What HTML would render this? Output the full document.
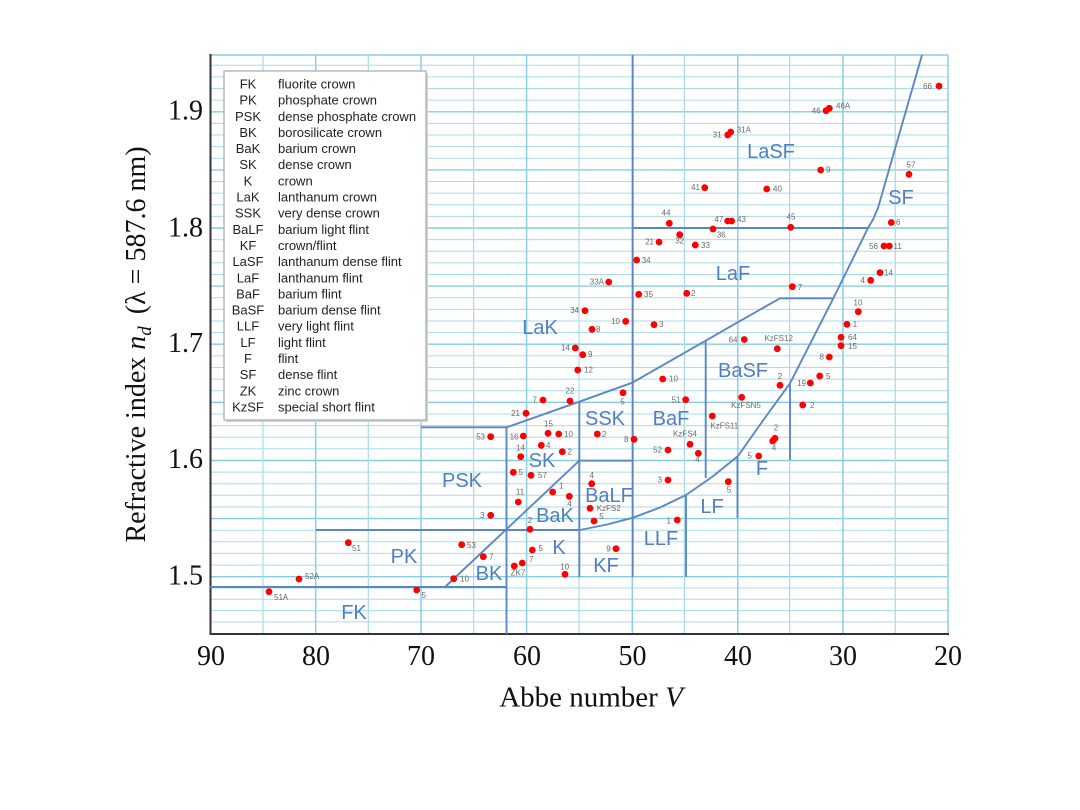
<!DOCTYPE html>
<html><head><meta charset="utf-8"><style>
html,body{margin:0;padding:0;background:#fff;}
svg{display:block;}
.pl{font-family:"Liberation Sans",sans-serif;font-size:8px;fill:#6a6a6a;}
.rg{font-family:"Liberation Sans",sans-serif;font-size:20px;fill:#4f7fc2;text-anchor:middle;}
.lg{font-family:"Liberation Sans",sans-serif;font-size:13px;fill:#222;}
.tk{font-family:"Liberation Serif",serif;font-size:28px;fill:#111;}
</style></head><body>
<svg width="1080" height="810" viewBox="0 0 1080 810" xmlns="http://www.w3.org/2000/svg">
<rect width="1080" height="810" fill="#fff"/>
<!-- horizontal grid -->
<g stroke="#a8dbeb" stroke-width="1">
<line x1="210" x2="948" y1="65.3" y2="65.3"/><line x1="210" x2="948" y1="76.9" y2="76.9"/><line x1="210" x2="948" y1="88.5" y2="88.5"/><line x1="210" x2="948" y1="100.1" y2="100.1"/>
<line x1="210" x2="948" y1="123.4" y2="123.4"/><line x1="210" x2="948" y1="135" y2="135"/><line x1="210" x2="948" y1="146.6" y2="146.6"/><line x1="210" x2="948" y1="158.3" y2="158.3"/>
<line x1="210" x2="948" y1="181.5" y2="181.5"/><line x1="210" x2="948" y1="193.1" y2="193.1"/><line x1="210" x2="948" y1="204.8" y2="204.8"/><line x1="210" x2="948" y1="216.4" y2="216.4"/>
<line x1="210" x2="948" y1="239.6" y2="239.6"/><line x1="210" x2="948" y1="251.2" y2="251.2"/><line x1="210" x2="948" y1="262.9" y2="262.9"/><line x1="210" x2="948" y1="274.5" y2="274.5"/>
<line x1="210" x2="948" y1="297.7" y2="297.7"/><line x1="210" x2="948" y1="309.4" y2="309.4"/><line x1="210" x2="948" y1="321" y2="321"/><line x1="210" x2="948" y1="332.6" y2="332.6"/>
<line x1="210" x2="948" y1="355.9" y2="355.9"/><line x1="210" x2="948" y1="367.5" y2="367.5"/><line x1="210" x2="948" y1="379.1" y2="379.1"/><line x1="210" x2="948" y1="390.7" y2="390.7"/>
<line x1="210" x2="948" y1="414" y2="414"/><line x1="210" x2="948" y1="425.6" y2="425.6"/><line x1="210" x2="948" y1="437.2" y2="437.2"/><line x1="210" x2="948" y1="448.8" y2="448.8"/>
<line x1="210" x2="948" y1="472.1" y2="472.1"/><line x1="210" x2="948" y1="483.7" y2="483.7"/><line x1="210" x2="948" y1="495.3" y2="495.3"/><line x1="210" x2="948" y1="507" y2="507"/>
<line x1="210" x2="948" y1="530.2" y2="530.2"/><line x1="210" x2="948" y1="541.8" y2="541.8"/><line x1="210" x2="948" y1="553.4" y2="553.4"/><line x1="210" x2="948" y1="565.1" y2="565.1"/>
<line x1="210" x2="948" y1="588" y2="588"/><line x1="210" x2="948" y1="599.3" y2="599.3"/><line x1="210" x2="948" y1="610.6" y2="610.6"/><line x1="210" x2="948" y1="621.9" y2="621.9"/>
</g>
<g stroke="#86cde3" stroke-width="1.4">
<line x1="210" x2="948" y1="55" y2="55"/>
<line x1="210" x2="948" y1="111.8" y2="111.8"/><line x1="210" x2="948" y1="169.9" y2="169.9"/><line x1="210" x2="948" y1="228" y2="228"/>
<line x1="210" x2="948" y1="286.1" y2="286.1"/><line x1="210" x2="948" y1="344.2" y2="344.2"/><line x1="210" x2="948" y1="402.3" y2="402.3"/>
<line x1="210" x2="948" y1="460.5" y2="460.5"/><line x1="210" x2="948" y1="518.6" y2="518.6"/><line x1="210" x2="948" y1="576.7" y2="576.7"/>
</g>
<!-- vertical grid -->
<g stroke="#a8dbeb" stroke-width="1.2">
<line x1="263" x2="263" y1="55" y2="634"/><line x1="368.3" x2="368.3" y1="55" y2="634"/><line x1="473.6" x2="473.6" y1="55" y2="634"/>
<line x1="579" x2="579" y1="55" y2="634"/><line x1="684.4" x2="684.4" y1="55" y2="634"/><line x1="789.7" x2="789.7" y1="55" y2="634"/><line x1="895.3" x2="895.3" y1="55" y2="634"/>
</g>
<g stroke="#8ad0e5" stroke-width="1.5">
<line x1="315.7" x2="315.7" y1="55" y2="634"/><line x1="421" x2="421" y1="55" y2="634"/><line x1="526.6" x2="526.6" y1="55" y2="634"/>
<line x1="632.3" x2="632.3" y1="55" y2="634"/><line x1="737.8" x2="737.8" y1="55" y2="634"/><line x1="843" x2="843" y1="55" y2="634"/><line x1="948" x2="948" y1="55" y2="634"/>
</g>
<!-- axes -->
<line x1="210.5" y1="54" x2="210.5" y2="635" stroke="#333" stroke-width="2"/>
<line x1="209.5" y1="634" x2="949" y2="634" stroke="#333" stroke-width="2"/>

<!-- boundaries -->
<g stroke="#5a87c5" stroke-width="1.9" fill="none" stroke-linejoin="round">
<polyline points="580,530 607,524.5 633,517.7 660,507.5 686,495 712,477 738,456 763,420.5 790,383.3 833.3,298.3 868,228 873,219.5 878,208 922,55"/>
<polyline points="421,427.3 506.7,427.3 579.3,401.7 632.3,382.7 705.7,340.7 730,326.7 780,298.3 833.3,298.3"/>
<line x1="506.5" y1="427.3" x2="506.5" y2="634"/>
<line x1="579.3" y1="401.7" x2="579.3" y2="577"/>
<line x1="579.3" y1="460.7" x2="632.7" y2="460.7"/>
<line x1="632.7" y1="55" x2="632.7" y2="577"/>
<line x1="632.7" y1="228" x2="868" y2="228"/>
<line x1="705.7" y1="340.7" x2="705.7" y2="478"/>
<line x1="790" y1="383.3" x2="790" y2="460"/>
<line x1="737.5" y1="456" x2="737.5" y2="518"/>
<line x1="686" y1="495" x2="686" y2="577"/>
<line x1="316" y1="530" x2="580" y2="530"/>
<line x1="210" y1="587" x2="506.5" y2="587"/>
<line x1="445" y1="587" x2="579.3" y2="460.7"/>
</g>

<!-- region labels -->
<g class="rg">
<text x="771" y="158">LaSF</text>
<text x="901" y="204">SF</text>
<text x="733" y="280">LaF</text>
<text x="540" y="334">LaK</text>
<text x="743" y="377">BaSF</text>
<text x="605" y="425">SSK</text>
<text x="671" y="425">BaF</text>
<text x="462" y="487">PSK</text>
<text x="542" y="467">SK</text>
<text x="609" y="502">BaLF</text>
<text x="555" y="522">BaK</text>
<text x="762" y="475">F</text>
<text x="712" y="513">LF</text>
<text x="661" y="545">LLF</text>
<text x="559" y="554">K</text>
<text x="606" y="572">KF</text>
<text x="404" y="563">PK</text>
<text x="489" y="580">BK</text>
<text x="354" y="619">FK</text>
</g>

<!-- points -->
<g fill="#f00">
<circle cx="269" cy="591.7" r="3.4"/><circle cx="299" cy="579" r="3.4"/><circle cx="348.3" cy="542.7" r="3.4"/><circle cx="416.7" cy="590" r="3.4"/>
<circle cx="453.7" cy="578.7" r="3.4"/><circle cx="461.7" cy="544.7" r="3.4"/><circle cx="483.3" cy="556.7" r="3.4"/><circle cx="490.7" cy="515.3" r="3.4"/>
<circle cx="490.7" cy="436.7" r="3.4"/><circle cx="518.3" cy="502" r="3.4"/><circle cx="514.3" cy="566" r="3.4"/><circle cx="522.3" cy="563" r="3.4"/>
<circle cx="526" cy="413.3" r="3.4"/><circle cx="523.3" cy="436" r="3.4"/><circle cx="548" cy="433.3" r="3.4"/><circle cx="558.7" cy="434" r="3.4"/>
<circle cx="541.3" cy="445.3" r="3.4"/><circle cx="520.7" cy="456.7" r="3.4"/><circle cx="562.3" cy="451.7" r="3.4"/><circle cx="513.3" cy="472.3" r="3.4"/>
<circle cx="531" cy="475.3" r="3.4"/><circle cx="552.7" cy="492" r="3.4"/><circle cx="569.3" cy="496.3" r="3.4"/><circle cx="530" cy="529.3" r="3.4"/>
<circle cx="532.3" cy="550" r="3.4"/><circle cx="565" cy="574.3" r="3.4"/><circle cx="597.3" cy="434" r="3.4"/><circle cx="634" cy="439.3" r="3.4"/>
<circle cx="591.7" cy="483.7" r="3.4"/><circle cx="590" cy="508.3" r="3.4"/><circle cx="594" cy="521" r="3.4"/><circle cx="616" cy="548.7" r="3.4"/>
<circle cx="668" cy="450" r="3.4"/><circle cx="690" cy="444.3" r="3.4"/><circle cx="698.3" cy="453.3" r="3.4"/><circle cx="668" cy="480" r="3.4"/>
<circle cx="677.3" cy="520" r="3.4"/><circle cx="712.3" cy="416" r="3.4"/><circle cx="728.3" cy="481.7" r="3.4"/><circle cx="758.7" cy="456" r="3.4"/>
<circle cx="775" cy="438.3" r="3.4"/><circle cx="772.7" cy="441" r="3.4"/><circle cx="608.7" cy="282" r="3.4"/><circle cx="638.7" cy="294.3" r="3.4"/>
<circle cx="686.7" cy="293.3" r="3.4"/><circle cx="585" cy="310.7" r="3.4"/><circle cx="625.7" cy="321.3" r="3.4"/><circle cx="654" cy="324.7" r="3.4"/>
<circle cx="592" cy="329.3" r="3.4"/><circle cx="575.3" cy="348" r="3.4"/><circle cx="582.7" cy="354.7" r="3.4"/><circle cx="577.7" cy="370" r="3.4"/>
<circle cx="744.3" cy="339.5" r="3.4"/><circle cx="662.7" cy="379" r="3.4"/><circle cx="623" cy="392.7" r="3.4"/><circle cx="543" cy="400" r="3.4"/>
<circle cx="570" cy="401" r="3.4"/><circle cx="685.7" cy="399.7" r="3.4"/><circle cx="741.7" cy="397.3" r="3.4"/><circle cx="891.3" cy="222.5" r="3.4"/>
<circle cx="884" cy="246" r="3.4"/><circle cx="889.3" cy="246" r="3.4"/><circle cx="880" cy="272.7" r="3.4"/><circle cx="870.7" cy="280.3" r="3.4"/>
<circle cx="858.3" cy="311.7" r="3.4"/><circle cx="847" cy="324.3" r="3.4"/><circle cx="841" cy="337.3" r="3.4"/><circle cx="841" cy="345.7" r="3.4"/>
<circle cx="829.3" cy="357" r="3.4"/><circle cx="819.7" cy="376" r="3.4"/><circle cx="810.3" cy="383" r="3.4"/><circle cx="780" cy="385.3" r="3.4"/>
<circle cx="802.7" cy="405" r="3.4"/><circle cx="792.3" cy="286.7" r="3.4"/><circle cx="777.3" cy="348.7" r="3.4"/><circle cx="939" cy="86" r="3.4"/>
<circle cx="826" cy="110.7" r="3.4"/><circle cx="829.3" cy="108.3" r="3.4"/><circle cx="727.7" cy="135" r="3.4"/><circle cx="730.7" cy="132" r="3.4"/>
<circle cx="820.7" cy="170" r="3.4"/><circle cx="909" cy="174.3" r="3.4"/><circle cx="766.7" cy="189" r="3.4"/><circle cx="704.7" cy="187.7" r="3.4"/>
<circle cx="727.7" cy="221" r="3.4"/><circle cx="731.7" cy="221" r="3.4"/><circle cx="790.7" cy="227.3" r="3.4"/><circle cx="713" cy="229" r="3.4"/>
<circle cx="669.3" cy="223.3" r="3.4"/><circle cx="679.7" cy="234.7" r="3.4"/><circle cx="659" cy="242" r="3.4"/><circle cx="695.3" cy="245" r="3.4"/>
<circle cx="636.7" cy="260" r="3.4"/>
</g>

<!-- point labels -->
<g class="pl">
<text x="274" y="600">51A</text><text x="305" y="579">52A</text><text x="352" y="551">51</text><text x="421.5" y="598">5</text>
<text x="460" y="581.5">10</text><text x="467" y="548">53</text><text x="489" y="559.5">7</text><text x="484.5" y="518" text-anchor="end">3</text>
<text x="485" y="439.5" text-anchor="end">53</text><text x="520" y="494.5" text-anchor="middle">11</text><text x="518" y="575.5" text-anchor="middle">ZK7</text><text x="529" y="562">7</text>
<text x="520" y="416" text-anchor="end">21</text><text x="518.5" y="439.5" text-anchor="end">16</text><text x="548.5" y="426.5" text-anchor="middle">15</text><text x="564" y="437">10</text>
<text x="546" y="448">4</text><text x="520.5" y="450.5" text-anchor="middle">14</text><text x="567.5" y="454.5">2</text><text x="518.5" y="475">5</text>
<text x="538" y="478">57</text><text x="559" y="488.5">1</text><text x="569.5" y="506.5" text-anchor="middle">4</text><text x="530" y="523" text-anchor="middle">2</text>
<text x="538.5" y="551">5</text><text x="564.7" y="569.5" text-anchor="middle">10</text><text x="602" y="437">2</text><text x="628.5" y="442" text-anchor="end">8</text>
<text x="591.7" y="478" text-anchor="middle">4</text><text x="596.7" y="511">KzFS2</text><text x="599.3" y="519">5</text><text x="610.7" y="551.5" text-anchor="end">9</text>
<text x="662" y="452.5" text-anchor="end">52</text><text x="685" y="436.5" text-anchor="middle">KzFS4</text><text x="697.5" y="462" text-anchor="middle">4</text><text x="662" y="482.5" text-anchor="end">3</text>
<text x="671" y="523.5" text-anchor="end">1</text><text x="724.3" y="428.5" text-anchor="middle">KzFS11</text><text x="729" y="492.5" text-anchor="middle">5</text><text x="752" y="458.5" text-anchor="end">5</text>
<text x="776" y="430.5" text-anchor="middle">2</text><text x="774" y="450.5" text-anchor="middle">4</text><text x="604" y="284.5" text-anchor="end">33A</text><text x="644" y="297">35</text>
<text x="691" y="296">2</text><text x="579" y="313" text-anchor="end">34</text><text x="620" y="324" text-anchor="end">10</text><text x="659" y="327">3</text>
<text x="596" y="332">8</text><text x="570" y="350.5" text-anchor="end">14</text><text x="588" y="357">9</text><text x="584" y="372.5">12</text>
<text x="737.5" y="342.5" text-anchor="end">64</text><text x="669" y="381.5">10</text><text x="622.5" y="404.5" text-anchor="middle">5</text><text x="537" y="402.5" text-anchor="end">7</text>
<text x="570" y="393.5" text-anchor="middle">22</text><text x="680.5" y="402.5" text-anchor="end">51</text><text x="746" y="408" text-anchor="middle">KzFSN5</text><text x="896" y="225">6</text>
<text x="878" y="249" text-anchor="end">56</text><text x="893.5" y="249">11</text><text x="884" y="275.5">14</text><text x="865" y="283" text-anchor="end">4</text>
<text x="858" y="305.5" text-anchor="middle">10</text><text x="852.7" y="327">1</text><text x="848" y="340">64</text><text x="848" y="349">15</text>
<text x="824" y="359.5" text-anchor="end">8</text><text x="826" y="379">5</text><text x="806" y="386" text-anchor="end">19</text><text x="780" y="379" text-anchor="middle">2</text>
<text x="810" y="408">2</text><text x="797.7" y="290">7</text><text x="778.7" y="341" text-anchor="middle">KzFS12</text><text x="932" y="89" text-anchor="end">66</text>
<text x="820.7" y="113.5" text-anchor="end">46</text><text x="836" y="108.5">46A</text><text x="721.7" y="137.5" text-anchor="end">31</text><text x="736.7" y="132.5">31A</text>
<text x="826" y="172.5">9</text><text x="911" y="167.5" text-anchor="middle">57</text><text x="773" y="191.5">40</text><text x="700" y="190" text-anchor="end">41</text>
<text x="723.3" y="222" text-anchor="end">47</text><text x="737" y="222">43</text><text x="791" y="219.5" text-anchor="middle">45</text><text x="716.7" y="237.5">36</text>
<text x="666" y="215.5" text-anchor="middle">44</text><text x="679.7" y="243.5" text-anchor="middle">32</text><text x="654" y="244.5" text-anchor="end">21</text><text x="701" y="248">33</text>
<text x="641.7" y="263">34</text>
</g>

<!-- legend -->
<rect x="226" y="73" width="202" height="349" fill="#d4d4d4"/>
<rect x="224" y="71" width="202" height="349" fill="#fff" stroke="#a8a8a8" stroke-width="1.2"/>
<g class="lg">
<g text-anchor="middle">
<text x="248" y="88.5">FK</text><text x="248" y="104.6">PK</text><text x="248" y="120.8">PSK</text><text x="248" y="136.9">BK</text>
<text x="248" y="153.1">BaK</text><text x="248" y="169.2">SK</text><text x="248" y="185.4">K</text><text x="248" y="201.5">LaK</text>
<text x="248" y="217.7">SSK</text><text x="248" y="233.8">BaLF</text><text x="248" y="250">KF</text><text x="248" y="266.1">LaSF</text>
<text x="248" y="282.3">LaF</text><text x="248" y="298.4">BaF</text><text x="248" y="314.6">BaSF</text><text x="248" y="330.7">LLF</text>
<text x="248" y="346.9">LF</text><text x="248" y="363">F</text><text x="248" y="379.2">SF</text><text x="248" y="395.3">ZK</text>
<text x="248" y="411.5">KzSF</text>
</g>
<text x="278" y="88.5">fluorite crown</text><text x="278" y="104.6">phosphate crown</text><text x="278" y="120.8">dense phosphate crown</text><text x="278" y="136.9">borosilicate crown</text>
<text x="278" y="153.1">barium crown</text><text x="278" y="169.2">dense crown</text><text x="278" y="185.4">crown</text><text x="278" y="201.5">lanthanum crown</text>
<text x="278" y="217.7">very dense crown</text><text x="278" y="233.8">barium light flint</text><text x="278" y="250">crown/flint</text><text x="278" y="266.1">lanthanum dense flint</text>
<text x="278" y="282.3">lanthanum flint</text><text x="278" y="298.4">barium flint</text><text x="278" y="314.6">barium dense flint</text><text x="278" y="330.7">very light flint</text>
<text x="278" y="346.9">light flint</text><text x="278" y="363">flint</text><text x="278" y="379.2">dense flint</text><text x="278" y="395.3">zinc crown</text>
<text x="278" y="411.5">special short flint</text>
</g>

<!-- tick labels -->
<g class="tk" text-anchor="end">
<text x="203" y="119.3">1.9</text><text x="203" y="236.5">1.8</text><text x="203" y="352">1.7</text><text x="203" y="468">1.6</text><text x="203" y="584.5">1.5</text>
</g>
<g class="tk" text-anchor="middle">
<text x="211" y="665">90</text><text x="316" y="665">80</text><text x="421" y="665">70</text><text x="527" y="665">60</text>
<text x="632.5" y="665">50</text><text x="738" y="665">40</text><text x="843" y="665">30</text><text x="948" y="665">20</text>
</g>
<text x="591" y="706.5" text-anchor="middle" style="font-family:'Liberation Serif',serif;font-size:29px;fill:#111;">Abbe number <tspan font-style="italic">V</tspan></text>
<text transform="translate(145,344.5) rotate(-90)" text-anchor="middle" style="font-family:'Liberation Serif',serif;font-size:28px;fill:#111;">Refractive index <tspan font-style="italic">n</tspan><tspan font-style="italic" font-size="19" dy="6">d</tspan><tspan dy="-6" dx="12">(λ = 587.6 nm)</tspan></text>
</svg>
</body></html>
